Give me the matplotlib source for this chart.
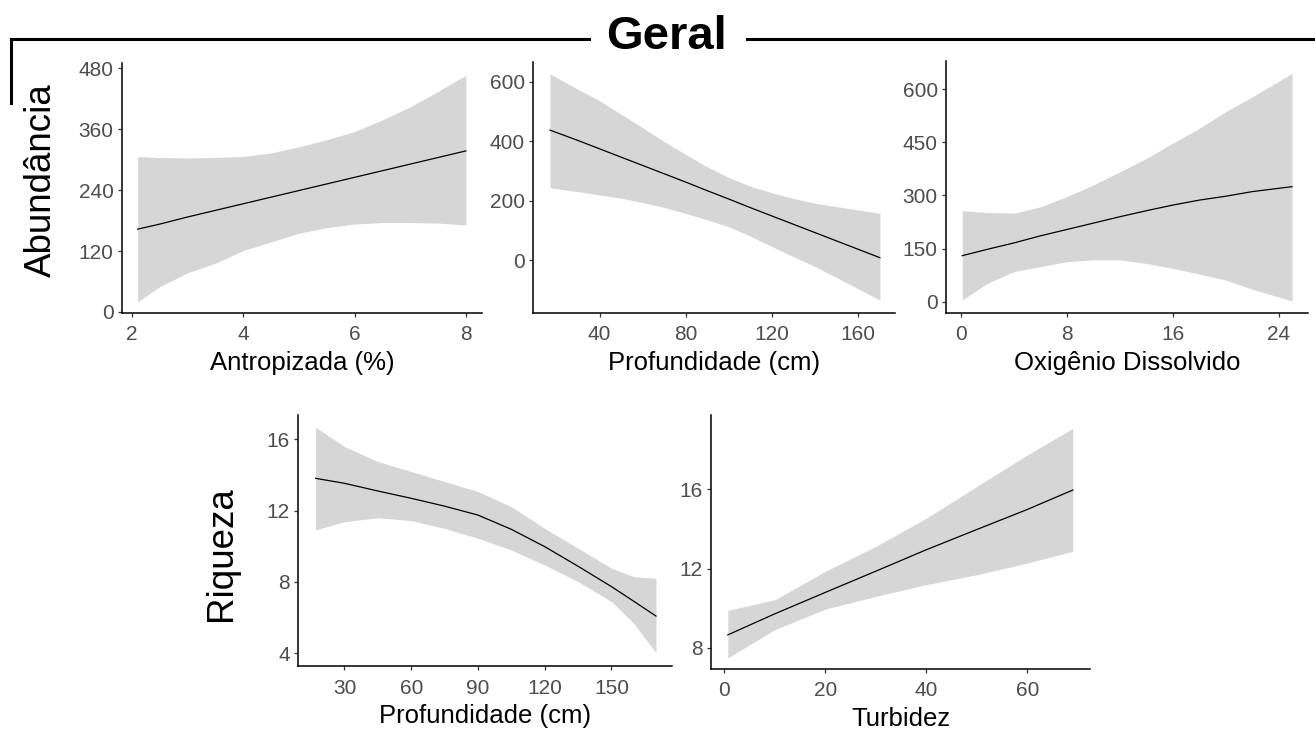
import matplotlib.pyplot as plt
from matplotlib.lines import Line2D

plt.rcParams['font.family'] = ['Liberation Sans', 'DejaVu Sans']

# fitted curves with confidence bands, one set per predictor
antrop_x = [2.1, 2.5, 3, 3.5, 4, 4.5, 5, 5.5, 6, 6.5, 7, 7.5, 8]
antrop_fit = [163, 173, 187, 200, 213, 226, 239, 252, 265, 278, 291, 304, 317]
antrop_hi = [306, 304, 303, 304, 306, 313, 325, 339, 355, 378, 404, 434, 466]
antrop_lo = [20, 50, 77, 96, 121, 138, 155, 166, 173, 176, 176, 175, 171]

prof_ab_x = [17, 30, 40, 50, 60, 70, 80, 90, 100, 110, 120, 130, 140, 155, 170]
prof_ab_fit = [437, 402, 374, 346, 318, 290, 262, 233, 205, 176, 148, 120, 92, 50, 8]
prof_ab_hi = [626, 574, 536, 490, 445, 398, 355, 313, 277, 248, 226, 207, 191, 174, 157]
prof_ab_lo = [243, 230, 219, 208, 193, 177, 157, 135, 112, 80, 45, 11, -22, -78, -135]

oxi_x = [0.1, 2, 4, 6, 8, 10, 12, 14, 16, 18, 20, 22, 25]
oxi_fit = [130, 148, 166, 186, 204, 222, 240, 257, 273, 287, 298, 311, 325]
oxi_hi = [257, 252, 250, 268, 297, 330, 367, 405, 448, 490, 537, 579, 645]
oxi_lo = [5, 52, 85, 99, 113, 118, 118, 108, 94, 78, 61, 35, 2]

prof_riq_x = [17, 30, 45, 60, 75, 90, 105, 120, 135, 150, 160, 170]
prof_riq_fit = [13.81, 13.53, 13.1, 12.69, 12.25, 11.75, 10.95, 9.98, 8.88, 7.74, 6.92, 6.09]
prof_riq_hi = [16.67, 15.59, 14.75, 14.19, 13.63, 13.07, 12.22, 11.0, 9.89, 8.77, 8.3, 8.21]
prof_riq_lo = [10.92, 11.38, 11.6, 11.44, 11.0, 10.45, 9.79, 8.95, 8.02, 6.9, 5.68, 4.04]

turb_x = [0.7, 10, 20, 30, 40, 50, 60, 69]
turb_fit = [8.66, 9.72, 10.8, 11.87, 12.95, 13.97, 14.98, 15.96]
turb_hi = [9.9, 10.43, 11.86, 13.12, 14.54, 16.14, 17.73, 19.07]
turb_lo = [7.5, 8.92, 9.96, 10.6, 11.19, 11.69, 12.28, 12.87]

W, H = 1315, 731
fig = plt.figure(figsize=(W / 100, H / 100), dpi=100)


def px_axes(left, top, right, bottom):
    return fig.add_axes([left / W, 1 - bottom / H, (right - left) / W, (bottom - top) / H])


def panel(ax, x, fit, lo, hi, xlab, xlim, ylim, xticks, yticks):
    ax.fill_between(x, lo, hi, color='#D6D6D6', lw=0)
    ax.plot(x, fit, color='black', lw=0.9)
    ax.set_xlim(*xlim)
    ax.set_ylim(*ylim)
    ax.set_xticks(xticks)
    ax.set_yticks(yticks)
    for s in ['top', 'right']:
        ax.spines[s].set_visible(False)
    for s in ['left', 'bottom']:
        ax.spines[s].set_linewidth(1.1)
    ax.tick_params(axis='both', length=3, width=0.9, color='#333333',
                   labelcolor='#4D4D4D', labelsize=15)
    ax.tick_params(axis='x', pad=6)
    ax.tick_params(axis='y', pad=3)
    ax.set_xlabel(xlab, fontsize=18.5, labelpad=5)


ax1 = px_axes(122, 63, 482, 313)
panel(ax1, antrop_x, antrop_fit, antrop_lo, antrop_hi, 'Antropizada (%)',
      (1.82, 8.29), (-2, 490), [2, 4, 6, 8], [0, 120, 240, 360, 480])

ax2 = px_axes(533, 62, 895, 313)
panel(ax2, prof_ab_x, prof_ab_fit, prof_ab_lo, prof_ab_hi, 'Profundidade (cm)',
      (9.1, 177), (-178, 666), [40, 80, 120, 160], [0, 200, 400, 600])

ax3 = px_axes(946, 61, 1308, 313)
panel(ax3, oxi_x, oxi_fit, oxi_lo, oxi_hi, 'Oxigênio Dissolvido',
      (-1.13, 26.2), (-32, 680), [0, 8, 16, 24], [0, 150, 300, 450, 600])

ax4 = px_axes(298, 415, 672, 666)
panel(ax4, prof_riq_x, prof_riq_fit, prof_riq_lo, prof_riq_hi, 'Profundidade (cm)',
      (9.1, 177.2), (3.29, 17.36), [30, 60, 90, 120, 150], [4, 8, 12, 16])

ax5 = px_axes(711, 415, 1090, 669)
panel(ax5, turb_x, turb_fit, turb_lo, turb_hi, 'Turbidez',
      (-2.63, 72.4), (6.94, 19.74), [0, 20, 40, 60], [8, 12, 16])

# row labels
fig.text(41 / W, 1 - 180 / H, 'Abundância', rotation=90, fontsize=26.5,
         ha='center', va='center')
fig.text(222 / W, 1 - 554 / H, 'Riqueza', rotation=90, fontsize=26.5,
         ha='center', va='center')

# header with bracket line
fig.text(666 / W, 1 - 37 / H, 'Geral', fontsize=34, fontweight='bold',
         ha='center', va='center')
y_line = 1 - 38.5 / H
fig.add_artist(Line2D([11 / W, 589 / W], [y_line, y_line], color='black', lw=2.2))
fig.add_artist(Line2D([747 / W, 1.0], [y_line, y_line], color='black', lw=2.2))
fig.add_artist(Line2D([11 / W, 11 / W], [y_line, 1 - 103 / H], color='black', lw=2.2))

fig.savefig('out.png', dpi=100)
